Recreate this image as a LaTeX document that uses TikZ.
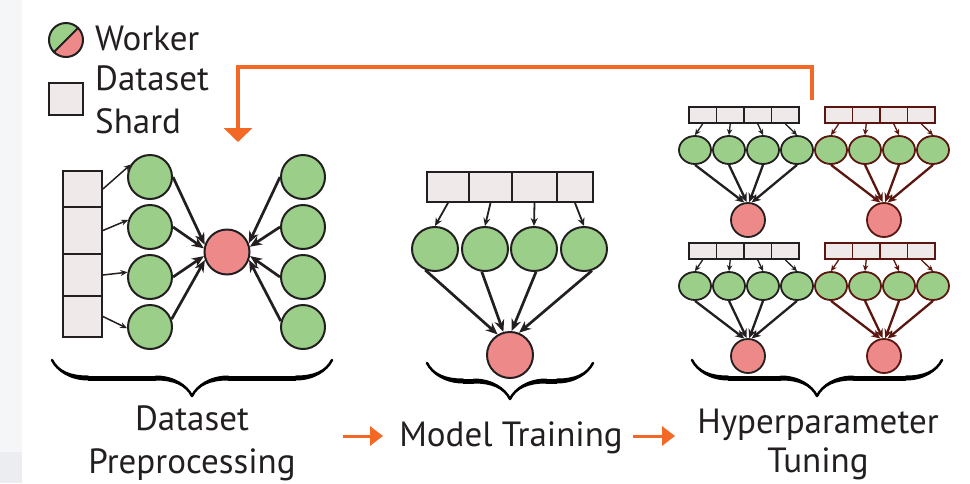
\documentclass[tikz,border=0pt]{standalone}
\usepackage{fontspec}
\setmainfont{PT Sans}
\usetikzlibrary{arrows.meta,shapes.geometric,decorations.pathreplacing,calligraphy}

\definecolor{ink}{RGB}{35,31,32}
\definecolor{wgreen}{RGB}{155,207,137}
\definecolor{wred}{RGB}{237,137,137}
\definecolor{shardfill}{RGB}{239,233,233}
\definecolor{darkred}{RGB}{92,22,16}
\definecolor{flow}{RGB}{242,104,36}
\definecolor{stripgray}{RGB}{245,246,248}
\definecolor{stripgraydark}{RGB}{236,237,240}

\tikzset{
  shard/.style={draw=ink, fill=shardfill, line width=1.8pt, inner sep=0pt, rectangle},
  worker/.style={draw=ink, fill=wgreen, line width=2pt, circle, inner sep=0pt, minimum size=44pt},
  master/.style={draw=ink, fill=wred, line width=2pt, circle, inner sep=0pt, minimum size=45pt},
  thinarrow/.style={draw=ink, line width=1.5pt, -{Stealth[length=7pt,width=6pt]}},
  thickarrow/.style={draw=ink, line width=2.7pt, -{Stealth[length=12pt,width=10pt]}},
  hshard/.style={fill=shardfill, line width=1.6pt, inner sep=0pt, rectangle, minimum width=27.5pt, minimum height=16pt},
  hworker/.style={fill=wgreen, line width=1.8pt, ellipse, inner sep=0pt, minimum width=32pt, minimum height=28pt},
  hmaster/.style={fill=wred, line width=1.8pt, circle, inner sep=0pt, minimum size=34pt},
  hthin/.style={line width=1.3pt, -{Stealth[length=6pt,width=5.5pt]}},
  hthick/.style={line width=2.3pt, -{Stealth[length=9pt,width=8pt]}},
  lbl/.style={text=ink, inner sep=0pt, font=\fontsize{35}{42}\selectfont},
  panelbrace/.style={draw=ink, line width=5pt, decorate,
    decoration={calligraphic brace, amplitude=36pt, mirror}},
  flowline/.style={draw=flow, line width=3.6pt},
  flowarrow/.style={draw=flow, line width=3pt, -{Triangle[length=13pt,width=19pt]}}
}

% one replica of the tuning ensemble: shard row, four workers, one aggregator
\newcommand\hypgroup[4]{%
  \begin{scope}[shift={(#2,#3)}]
    \foreach \i/\cx in {1/702.75,2/730.25,3/757.75,4/785.25}
      \node[hshard, draw=#4] (#1s\i) at (\cx,115) {};
    \foreach \i/\cx in {1/695,2/729,3/763,4/797}
      \node[hworker, draw=#4] (#1g\i) at (\cx,150) {};
    \node[hmaster, draw=#4] (#1r) at (748,220) {};
    \foreach \i in {1,...,4}
      \draw[hthin, draw=#4] (#1s\i.south) -- (#1g\i.north);
    \foreach \i/\a in {1/102,2/94,3/86,4/78}
      \draw[hthick, draw=#4] (#1g\i.south) -- (#1r.\a);
  \end{scope}}

\begin{document}
\begin{tikzpicture}[x=1pt, y=-1pt]
  \useasboundingbox (0,0) rectangle (970,483);
  \fill[stripgray] (0,0) rectangle (22,483);
  \fill[stripgraydark] (0,452) rectangle (22,483);

  % ---- legend ----
  \coordinate (lgc) at (66,40);
  \begin{scope}
    \clip (lgc) circle[radius=17];
    \fill[wgreen] (49,23) rectangle (83,57);
    \fill[wred] (49,57) -- (83,23) -- (83,57) -- cycle;
  \end{scope}
  \node[draw=ink, line width=2pt, circle, inner sep=0pt, minimum size=34pt] (legworker) at (lgc) {};
  \draw[ink, line width=2pt] (legworker.225) -- (legworker.45);
  \node[shard, minimum width=34pt, minimum height=32pt] (legshard) at (66,99) {};
  \node[lbl, anchor=base west] (tWorker) at (95,50) {Worker};
  \node[lbl, anchor=base west] (tDatasetL) at (95,90) {Dataset};
  \node[lbl, anchor=base west] (tShard) at (95,133) {Shard};

  % ---- dataset preprocessing ----
  \node[shard, minimum width=39pt, minimum height=36pt] (ps1) at (82.5,189) {};
  \node[shard, minimum width=39pt, minimum height=47pt] (ps2) at (82.5,230.5) {};
  \node[shard, minimum width=39pt, minimum height=42pt] (ps3) at (82.5,275) {};
  \node[shard, minimum width=39pt, minimum height=41pt] (ps4) at (82.5,316.5) {};
  \foreach \i/\cy in {1/177,2/227,3/277,4/327} {
    \node[worker] (pl\i) at (150,\cy) {};
    \node[worker] (pr\i) at (303,\cy) {};
  }
  \node[master] (pm) at (227,252) {};
  \draw[thinarrow] (ps1.east) -- (pl1.147);
  \draw[thinarrow] (ps2.east) -- (pl2.162);
  \draw[thinarrow] (ps3.east) -- (pl3.168);
  \draw[thinarrow] (ps4.east) -- (pl4.183);
  \draw[thickarrow] (pl1.east) -- (pm.162);
  \draw[thickarrow] (pl2.east) -- (pm.171);
  \draw[thickarrow] (pl3.east) -- (pm.190);
  \draw[thickarrow] (pl4.20) -- (pm.200);
  \draw[thickarrow] (pr1.west) -- (pm.22);
  \draw[thickarrow] (pr2.west) -- (pm.13);
  \draw[thickarrow] (pr3.west) -- (pm.350);
  \draw[thickarrow] (pr4.165) -- (pm.340);

  % ---- model training ----
  \node[shard, minimum width=42pt, minimum height=30pt] (ms1) at (448,187) {};
  \node[shard, minimum width=43pt, minimum height=30pt] (ms2) at (490.5,187) {};
  \node[shard, minimum width=45pt, minimum height=30pt] (ms3) at (534.5,187) {};
  \node[shard, minimum width=36pt, minimum height=30pt] (ms4) at (575,187) {};
  \foreach \i/\cx in {1/435,2/485,3/534,4/584}
    \node[worker, minimum width=46pt, minimum height=44pt, ellipse] (mg\i) at (\cx,249) {};
  \node[master, minimum size=46pt] (mm) at (510,355) {};
  \draw[thinarrow, line width=1.8pt, -{Stealth[length=8pt,width=7pt]}] (ms1.south) -- (mg1.north);
  \draw[thinarrow, line width=1.8pt, -{Stealth[length=8pt,width=7pt]}] (ms2.south) -- (mg2.north);
  \draw[thinarrow, line width=1.8pt, -{Stealth[length=8pt,width=7pt]}] (ms3.south) -- (mg3.north);
  \draw[thinarrow, line width=1.8pt, -{Stealth[length=8pt,width=7pt]}] (ms4.south) -- (mg4.north);
  \draw[thickarrow] (mg1.245) -- (mm.121);
  \draw[thickarrow] (mg2.262) -- (mm.106);
  \draw[thickarrow] (mg3.275) -- (mm.86);
  \draw[thickarrow] (mg4.290) -- (mm.68);

  % ---- hyperparameter tuning ----
  \hypgroup{ha}{0}{0}{ink}
  \hypgroup{hb}{136}{0}{darkred}
  \hypgroup{hc}{0}{136}{ink}
  \hypgroup{hd}{136}{136}{darkred}

  % ---- feedback loop ----
  \coordinate (fbstart) at (812,100);
  \coordinate (fbend) at (238,142);
  \draw[flowline, -{Triangle[length=14pt,width=28pt]}] (fbstart) -- ++(0,-33) -| (fbend);

  % ---- braces and stage labels ----
  \coordinate (b1l) at (52,360);  \coordinate (b1r) at (332,360);
  \coordinate (b2l) at (427,363); \coordinate (b2r) at (593,363);
  \coordinate (b3l) at (692,360); \coordinate (b3r) at (942,360);
  \draw[panelbrace] (b1l) -- (b1r);
  \draw[panelbrace] (b2l) -- (b2r);
  \draw[panelbrace] (b3l) -- (b3r);

  \node[lbl, anchor=base] (tPre1) at (192,430) {Dataset};
  \node[lbl, anchor=base] (tPre2) at (192,473) {Preprocessing};
  \node[lbl, anchor=base] (tTrain) at (511,446) {Model Training};
  \node[lbl, anchor=base] (tHyp1) at (818,433) {Hyperparameter};
  \node[lbl, anchor=base] (tHyp2) at (818,472) {Tuning};

  \coordinate (oa1s) at (343,436); \coordinate (oa1e) at (383,436);
  \coordinate (oa2s) at (633,436); \coordinate (oa2e) at (675,436);
  \draw[flowarrow] (oa1s) -- (oa1e);
  \draw[flowarrow] (oa2s) -- (oa2e);
\end{tikzpicture}
\end{document}
